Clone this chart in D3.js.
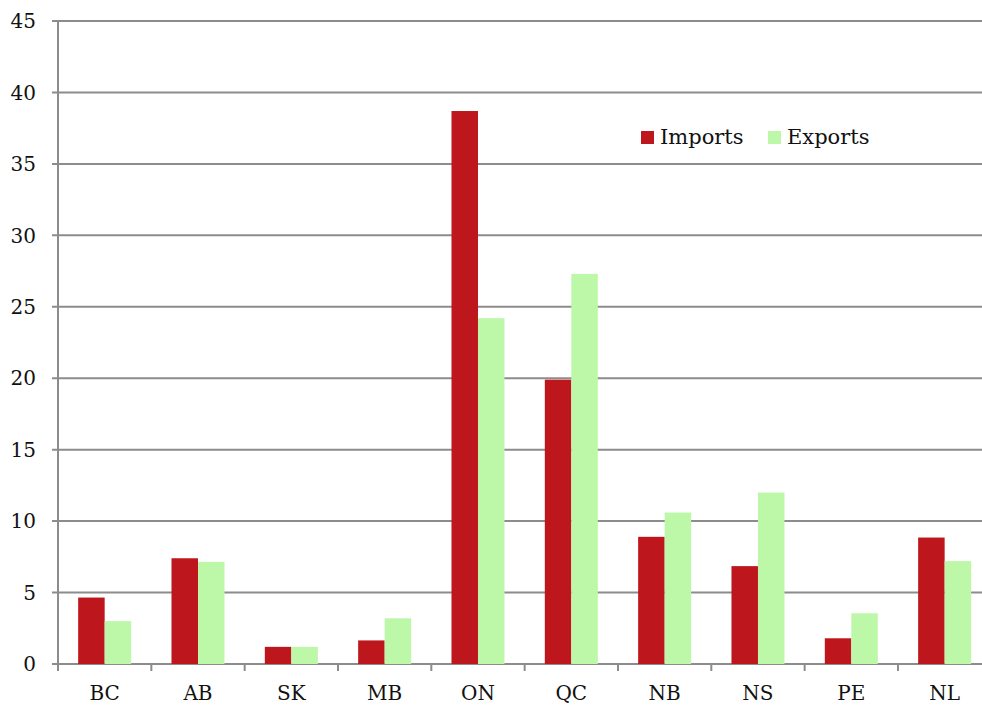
<!DOCTYPE html>
<html><head><meta charset="utf-8">
<script src="https://cdn.jsdelivr.net/npm/d3@7"></script>
<style>body{margin:0;background:#fff}svg{display:block}text{font-family:"DejaVu Serif",serif;fill:#111}</style>
</head><body><svg id="c" width="982" height="706"></svg>
<script>
const categories = ["BC","AB","SK","MB","ON","QC","NB","NS","PE","NL"];
const imports = [4.65, 7.4, 1.2, 1.65, 38.7, 19.9, 8.9, 6.85, 1.8, 8.85];
const exports_ = [3.0, 7.15, 1.2, 3.2, 24.2, 27.3, 10.6, 12.0, 3.55, 7.2];
const seriesNames = ["Imports","Exports"];
const colors = ["#bd161c","#bdf7a8"];
const yTicks = [0,5,10,15,20,25,30,35,40,45];

const svg = d3.select("#c");
const mLeft = 58, mRight = 991.3, mTop = 21, mBottom = 664;
const x = d3.scaleBand().domain(categories).range([mLeft, mRight]);
const y = d3.scaleLinear().domain([0,45]).range([mBottom, mTop]);
const inner = d3.scaleBand().domain(seriesNames).range([0, 53]);
const off = (x.bandwidth()-53)/2;

// gridlines
svg.append("g").selectAll("line").data(yTicks).join("line")
  .attr("x1", mLeft-6).attr("x2", 982)
  .attr("y1", d=>y(d)).attr("y2", d=>y(d))
  .attr("stroke", "#8c8c8c").attr("stroke-width", 2);

// y labels
svg.append("g").selectAll("text").data(yTicks).join("text")
  .attr("x", 36).attr("y", d=>y(d)).attr("dy","0.36em")
  .attr("text-anchor","end").attr("font-size", 20).text(d=>d);

// bars
const data = categories.map((c,i)=>({c, vals:[imports[i], exports_[i]]}));
const g = svg.append("g");
data.forEach(d=>{
  d.vals.forEach((v,j)=>{
    g.append("rect")
      .attr("x", x(d.c)+off+inner(seriesNames[j]))
      .attr("width", inner.bandwidth())
      .attr("y", y(v)).attr("height", y(0)-y(v))
      .attr("fill", colors[j]);
  });
});

// y axis line
svg.append("line").attr("x1",mLeft).attr("x2",mLeft).attr("y1",mTop).attr("y2",mBottom)
  .attr("stroke","#8c8c8c").attr("stroke-width",2);

// x axis ticks at boundaries
const bounds = categories.map(c=>x(c)).concat([mRight]);
svg.append("g").selectAll("line").data(bounds).join("line")
  .attr("x1", d=>d).attr("x2", d=>d).attr("y1", mBottom).attr("y2", mBottom+7)
  .attr("stroke","#8c8c8c").attr("stroke-width",2);

// x labels
svg.append("g").selectAll("text").data(categories).join("text")
  .attr("x", d=>x(d)+x.bandwidth()/2).attr("y", 700)
  .attr("text-anchor","middle").attr("font-size",20).text(d=>d);

// legend
const leg = svg.append("g");
const legX = [641, 768];
seriesNames.forEach((s,j)=>{
  leg.append("rect").attr("x", legX[j]).attr("y", 131).attr("width", 13).attr("height", 13).attr("fill", colors[j]);
  leg.append("text").attr("x", legX[j]+19).attr("y", 144).attr("font-size", 21).text(s);
});
</script></body></html>
